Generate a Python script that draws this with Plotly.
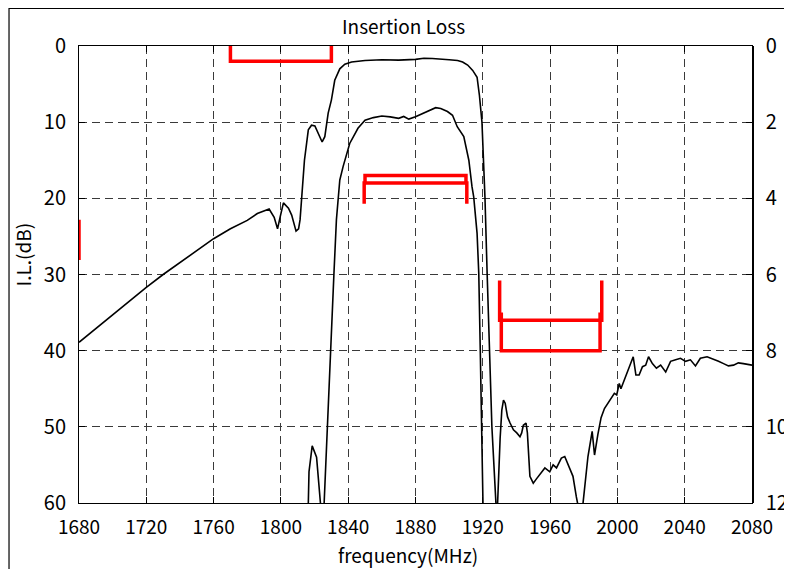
import plotly.graph_objects as go

# ---------------- data ----------------
# wide-range insertion loss (left axis, dB)
freq_wide = [1680, 1685, 1690, 1700, 1710, 1720, 1730, 1740, 1750, 1760, 1770, 1780, 1786, 1790, 1793,
             1796, 1798, 1799.5, 1801.5, 1804.5, 1806.4, 1809, 1810.5, 1811.4, 1814, 1816.3, 1818.2,
             1820.2, 1822.2, 1824.5, 1826.1, 1828.1, 1830, 1832, 1835, 1838, 1842, 1850, 1860, 1870,
             1880, 1885, 1890, 1895, 1900, 1905, 1908, 1911, 1914, 1916.6, 1918, 1919.5, 1921.3,
             1922.6, 1923.9, 1925.4, 1927.8, 1928.3, 1928.8, 1929.4, 1930.3, 1931.3, 1932.3, 1933.3,
             1934.7, 1936.2, 1938.2, 1940.2, 1942.1, 1943.1, 1944.1, 1945.7, 1946.5, 1948.0, 1950.0,
             1952.0, 1954.9, 1956.9, 1959.8, 1961.8, 1963.8, 1966.7, 1968.7, 1971.6, 1973.6, 1975.6,
             1977.2, 1979.1, 1980.5, 1982.5, 1985.0, 1986.4, 1988.4, 1990.3, 1992.3, 1995.2, 1998.2,
             1999.6, 2001.1, 2002.1, 2004.1, 2007.0, 2009.4, 2011.0, 2012.9, 2014.9, 2016.8, 2018.5,
             2020.8, 2023.2, 2025.7, 2028.7, 2031.6, 2034.6, 2037.5, 2040.5, 2043.4, 2046.4, 2049.3,
             2053.3, 2056.2, 2060.1, 2063.1, 2066.0, 2069.0, 2071.9, 2074.9, 2078.8, 2080]
il_wide = [38.9, 38.0, 37.0, 35.3, 33.4, 31.7, 30.0, 28.4, 26.8, 25.3, 24.0, 22.9, 22.0, 21.7, 21.4,
           22.5, 24.0, 22.5, 20.6, 21.3, 22.2, 24.3, 24.0, 22.8, 15.0, 11.0, 10.4,
           10.5, 11.5, 12.6, 11.9, 8.8, 7.1, 4.5, 3.0, 2.4, 2.1, 1.9, 1.8, 1.85,
           1.75, 1.6, 1.65, 1.7, 1.8, 1.9, 2.1, 2.5, 3.2, 4.1, 6.5, 10, 20,
           30, 40, 50, 60, 61.5, 60, 55.2, 51.5, 47.8, 46.5, 46.9,
           48.7, 49.5, 50.4, 50.8, 51.3, 50.8, 49.8, 49.5, 50.8, 56.5, 57.4,
           56.8, 55.9, 55.4, 55.9, 55.0, 55.4, 54.1, 53.9, 55.4, 56.5, 59.2,
           61, 61, 57.9, 53.9, 50.6, 53.7, 51.0, 48.8, 47.6, 46.7, 45.6,
           45.8, 44.3, 45.0, 43.9, 42.1, 40.8, 43.2, 43.2, 42.1, 41.9, 40.8,
           41.7, 42.3, 41.9, 42.8, 41.4, 41.2, 41.0, 41.4, 41.2, 42.0, 41.0,
           40.8, 41.1, 41.4, 41.7, 42.0, 41.9, 41.6, 41.7, 41.9, 41.9]

# passband insertion loss (right axis, dB)
freq_pass = [1810, 1816.0, 1816.3, 1816.7, 1818.6, 1821.2, 1823.5, 1824.5, 1825.7, 1827.7, 1829.5,
             1831.5, 1833.0, 1835.0, 1837.0, 1840.9, 1845.8, 1850, 1855, 1860, 1865, 1870, 1873,
             1876, 1880, 1884, 1888, 1892, 1895, 1899, 1902, 1904.8, 1908.7, 1911.7, 1913.6,
             1914.6, 1916.6, 1917.6, 1918.5, 1919.1, 1919.7, 1920.5]
il_pass = [13, 12.5, 12.0, 11.18, 10.5, 10.8, 12.0, 12.6, 12.0, 9.8, 8.0,
           6.0, 4.56, 3.52, 3.16, 2.56, 2.16, 1.95, 1.88, 1.84, 1.86, 1.9, 1.85,
           1.92, 1.86, 1.78, 1.68, 1.62, 1.64, 1.72, 1.82, 2.12, 2.38, 3.0, 3.7,
           3.96, 4.92, 5.96, 8.0, 10.0, 12.0, 13]

# specification marks (left axis, dB)
spec_x = [[1770, 1770, 1830, 1830],
          [1850, 1850, 1910, 1910],
          [1849.5, 1849.5, 1910.5, 1910.5],
          [1930, 1930, 1990.7, 1990.7],
          [1931, 1931, 1989.7, 1989.7],
          [1680, 1680]]
spec_y = [[0, 2, 2, 0],
          [18, 17, 17, 18],
          [20.7, 18, 18, 20.7],
          [30.8, 36, 36, 30.8],
          [35, 40, 40, 35],
          [22.8, 28.1]]

x_ticks = list(range(1680, 2081, 40))
y_left_ticks = list(range(0, 61, 10))
y_right_ticks = list(range(0, 13, 2))

# ---------------- figure ----------------
OFF = 8  # page body margin
W, H = 792, 569
ML, MR, MT, MB = 71, 43, 38, 74
PW, PH = W - ML - MR, H - MT - MB


def px(x):
    return (x - OFF - ML) / PW


def py(y):
    return (H - MB - (y - OFF)) / PH


FONT = "Noto Sans CJK JP, Noto Sans, sans-serif"

fig = go.Figure()

for sx, sy in zip(spec_x, spec_y):
    fig.add_trace(go.Scatter(x=sx, y=sy, mode="lines", yaxis="y",
                             line=dict(color="#ff0000", width=3.5),
                             showlegend=False, hoverinfo="skip"))

fig.add_trace(go.Scatter(x=freq_wide, y=il_wide, mode="lines", yaxis="y",
                         line=dict(color="black", width=1.6), showlegend=False))
fig.add_trace(go.Scatter(x=freq_pass, y=il_pass, mode="lines", yaxis="y2",
                         line=dict(color="black", width=1.6), showlegend=False))

grid = dict(showgrid=True, gridcolor="#3a3a3a", gridwidth=1, griddash="8px,5px")

fig.update_layout(
    width=W, height=H,
    margin=dict(l=ML, r=MR, t=MT, b=MB),
    paper_bgcolor="white", plot_bgcolor="white",
    font=dict(family=FONT, size=20, color="black"),
    showlegend=False,
    xaxis=dict(range=[1680, 2080], tickvals=x_ticks, ticks="inside", ticklen=6,
               tickcolor="black", showline=True, linecolor="black", linewidth=1,
               mirror="ticks", zeroline=False, ticklabelstandoff=7,
               tickfont=dict(size=19), **grid),
    yaxis=dict(range=[60, 0], tickvals=y_left_ticks, ticks="inside", ticklen=6,
               tickcolor="black", showline=True, linecolor="black", linewidth=1,
               mirror=True, zeroline=False, ticklabelstandoff=8,
               tickfont=dict(size=20), layer="below traces", **grid),
    yaxis2=dict(range=[12, 0], tickvals=y_right_ticks, overlaying="y", side="right",
                ticks="inside", ticklen=6, tickcolor="black", showline=True,
                linecolor="black", linewidth=1.5, showgrid=False, zeroline=False,
                ticklabelstandoff=8, tickfont=dict(size=20), layer="below traces"),
    annotations=[
        dict(text="Insertion Loss", x=px(406), y=py(26), xref="paper", yref="paper",
             showarrow=False, xanchor="center", yanchor="middle", font=dict(size=19)),
        dict(text="frequency(MHz)", x=px(410), y=py(554), xref="paper", yref="paper",
             showarrow=False, xanchor="center", yanchor="middle", font=dict(size=19)),
        dict(text="I.L.(dB)", x=px(22), y=py(254), xref="paper", yref="paper",
             showarrow=False, xanchor="center", yanchor="middle", textangle=-90,
             font=dict(size=19)),
    ],
    shapes=[
        dict(type="rect", xref="paper", yref="paper", x0=px(8.5), x1=px(830),
             y0=py(620), y1=py(8.5), line=dict(color="black", width=1.2),
             fillcolor="rgba(0,0,0,0)", layer="below"),
    ],
)

fig.write_html("out.html")
